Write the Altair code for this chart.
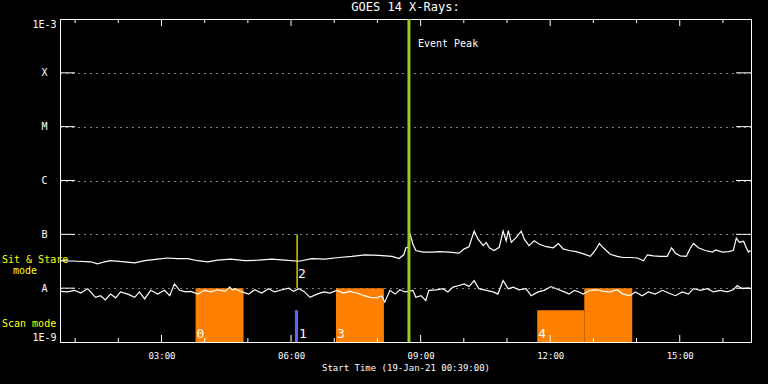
import altair as alt
import pandas as pd

FONT = "DejaVu Sans Mono"
ORANGE = "#ff8000"
BLUE = "#6464ff"
YELLOW = "#ffff00"
GREEN = "#9acd20"

# ---- GOES 14 long channel (1-8 A), hours since 00:00 and log10 flux ----
hours_long = [0.66, 1.06, 1.36, 1.52, 1.68, 1.82, 2.15, 2.38, 2.61, 2.91,
              3.14, 3.37, 3.61, 3.84, 4.07, 4.30, 4.60, 4.93, 5.25, 5.55,
              5.86, 6.18, 6.48, 6.78, 7.11, 7.41, 7.71, 8.03, 8.34, 8.50,
              8.61, 8.66, 8.71, 8.75, 8.82, 8.89, 9.06, 9.29, 9.43, 9.66,
              9.89, 10.01, 10.12, 10.24, 10.33, 10.45, 10.52, 10.59, 10.70, 10.82,
              10.91, 10.98, 11.03, 11.10, 11.21, 11.33, 11.40, 11.51, 11.63, 11.74,
              11.91, 12.07, 12.19, 12.30, 12.44, 12.60, 12.72, 12.93, 13.04, 13.14,
              13.23, 13.39, 13.55, 13.69, 13.85, 14.02, 14.16, 14.25, 14.39, 14.55,
              14.71, 14.81, 14.90, 15.01, 15.15, 15.25, 15.32, 15.43, 15.59, 15.76,
              15.83, 15.99, 16.13, 16.24, 16.31, 16.38, 16.48, 16.52, 16.59, 16.64]
log_long = [-7.49, -7.50, -7.51, -7.55, -7.51, -7.49, -7.51, -7.53, -7.49, -7.46,
            -7.44, -7.45, -7.45, -7.49, -7.51, -7.48, -7.46, -7.49, -7.48, -7.46,
            -7.48, -7.50, -7.45, -7.46, -7.43, -7.41, -7.38, -7.39, -7.41, -7.45,
            -7.38, -7.25, -7.24, -6.98, -7.18, -7.30, -7.33, -7.33, -7.32, -7.33,
            -7.35, -7.27, -7.23, -6.94, -7.09, -7.21, -7.15, -7.25, -7.30, -7.24,
            -6.94, -7.12, -6.93, -7.15, -7.06, -6.94, -7.09, -7.21, -7.12, -7.18,
            -7.23, -7.25, -7.17, -7.27, -7.30, -7.32, -7.35, -7.41, -7.30, -7.17,
            -7.25, -7.37, -7.41, -7.43, -7.43, -7.44, -7.49, -7.38, -7.40, -7.41,
            -7.41, -7.25, -7.35, -7.40, -7.41, -7.25, -7.17, -7.25, -7.30, -7.33,
            -7.29, -7.33, -7.32, -7.30, -7.07, -7.15, -7.13, -7.21, -7.33, -7.30]

# ---- GOES 14 short channel (0.5-4 A) ----
hours_short = [0.66, 0.82, 0.99, 1.13, 1.29, 1.36, 1.47, 1.59, 1.70, 1.82,
               1.94, 2.05, 2.22, 2.38, 2.49, 2.61, 2.75, 2.91, 3.07, 3.19,
               3.30, 3.42, 3.56, 3.68, 3.84, 4.00, 4.14, 4.30, 4.47, 4.58,
               4.65, 4.70, 4.86, 5.02, 5.16, 5.32, 5.48, 5.62, 5.79, 5.95,
               6.06, 6.18, 6.30, 6.44, 6.60, 6.76, 6.90, 7.06, 7.22, 7.36,
               7.52, 7.69, 7.83, 7.99, 8.10, 8.17, 8.29, 8.41, 8.52, 8.64,
               8.82, 8.89, 9.01, 9.12, 9.19, 9.36, 9.52, 9.63, 9.75, 9.89,
               10.01, 10.12, 10.24, 10.35, 10.52, 10.68, 10.79, 10.91, 11.03, 11.14,
               11.28, 11.44, 11.56, 11.72, 11.86, 12.02, 12.14, 12.30, 12.44, 12.56,
               12.67, 12.76, 12.93, 13.09, 13.23, 13.39, 13.55, 13.69, 13.85, 13.97,
               14.13, 14.27, 14.43, 14.60, 14.74, 14.90, 15.06, 15.20, 15.32, 15.48,
               15.64, 15.78, 15.94, 16.10, 16.24, 16.33, 16.45, 16.57, 16.64]
log_short = [-8.06, -8.07, -8.04, -8.09, -8.01, -8.07, -8.17, -8.14, -8.22, -8.11,
             -8.18, -8.07, -8.11, -8.17, -8.07, -8.20, -8.04, -8.11, -8.04, -8.14,
             -7.92, -8.04, -8.07, -8.06, -8.11, -8.04, -8.07, -8.03, -8.06, -7.98,
             -8.04, -8.01, -8.07, -8.11, -8.03, -8.09, -8.01, -8.07, -8.03, -8.00,
             -8.06, -8.01, -8.06, -8.17, -8.11, -8.07, -8.09, -8.04, -8.09, -8.06,
             -8.09, -8.14, -8.17, -8.18, -8.14, -8.26, -8.04, -8.11, -8.03, -8.07,
             -8.04, -8.17, -8.14, -8.23, -8.04, -8.03, -8.01, -8.07, -7.98, -7.95,
             -7.92, -7.97, -7.86, -8.01, -8.04, -8.07, -8.11, -7.86, -8.01, -7.98,
             -8.03, -8.01, -8.14, -8.07, -8.04, -7.97, -8.01, -8.06, -8.11, -8.04,
             -8.07, -8.11, -8.04, -8.03, -8.06, -8.07, -8.03, -8.11, -8.14, -8.07,
             -8.14, -8.07, -8.11, -8.04, -8.09, -8.14, -8.07, -8.11, -8.01, -8.04,
             -8.01, -8.07, -8.04, -8.07, -8.03, -7.95, -8.01, -8.00, -8.01]

# ---- scan-mode observation blocks ----
scan_start = [3.79, 7.04, 11.70, 12.79]
scan_end = [4.90, 8.15, 12.79, 13.90]
scan_top = [1e-8, 1e-8, 3.9e-9, 1e-8]

# ---- other annotations ----
blue_start, blue_end, blue_top = [6.09], [6.16], [3.9e-9]
sitstare_time, sitstare_lo, sitstare_hi = [6.14], [1e-8], [1e-7]
event_peak_time = [8.73]
bottom_label_text = ["0", "1", "3", "4"]
bottom_label_time = [3.79, 6.16, 7.04, 11.70]
upper_label_text = ["2"]
upper_label_time = [6.14]

# ---- axes definitions ----
x_domain = [0.65, 16.65]
y_domain = [1e-9, 1e-3]
major_hours = [3, 6, 9, 12, 15]
minor_hours = [1, 2, 4, 5, 7, 8, 10, 11, 13, 14, 16]
y_label_levels = [1e-9, 1e-8, 1e-7, 1e-6, 1e-5, 1e-4, 1e-3]
y_class_levels = [1e-8, 1e-7, 1e-6, 1e-5, 1e-4]
y_labels = ["1E-9", "A", "B", "C", "M", "X", "1E-3"]

W, H = 691, 323

x_scale = alt.Scale(domain=x_domain, nice=False, zero=False)
y_scale = alt.Scale(type="log", domain=y_domain, nice=False)

label_js = "[" + ",".join("'%s'" % s for s in y_labels) + "]"
x_axis = alt.Axis(values=major_hours,
                  labelExpr="(datum.value < 10 ? '0' : '') + datum.value + ':00'",
                  ticks=False, domain=False, grid=False,
                  labelColor="white", labelFont=FONT, labelFontSize=9,
                  labelPadding=9,
                  title="Start Time (19-Jan-21 00:39:00)", titleColor="white",
                  titleFont=FONT, titleFontSize=9, titleFontWeight="normal",
                  titlePadding=3)
y_axis = alt.Axis(values=y_label_levels,
                  labelExpr=label_js + "[round(log(datum.value)/LN10)+9]",
                  ticks=False, domain=False, grid=True, gridColor="white",
                  gridDash=[1, 5], gridWidth=1, gridOpacity=1,
                  labelColor="white", labelFont=FONT, labelFontSize=10,
                  labelAlign="center", labelPadding=16, labelFlush=True,
                  title=None)

long_df = pd.DataFrame({"h": hours_long, "f": [10 ** v for v in log_long]})
short_df = pd.DataFrame({"h": hours_short, "f": [10 ** v for v in log_short]})
scan_df = pd.DataFrame({"h": scan_start, "h2": scan_end, "f": scan_top})
blue_df = pd.DataFrame({"h": blue_start, "h2": blue_end, "f": blue_top})
ss_df = pd.DataFrame({"h": sitstare_time, "f": sitstare_lo, "f2": sitstare_hi})
peak_df = pd.DataFrame({"h": event_peak_time, "t": ["Event Peak"]})
blab_df = pd.DataFrame({"h": bottom_label_time, "t": bottom_label_text})
ulab_df = pd.DataFrame({"h": upper_label_time, "t": upper_label_text})
major_df = pd.DataFrame({"h": major_hours})
minor_df = pd.DataFrame({"h": minor_hours})
ylev_df = pd.DataFrame({"f": y_class_levels})
one_df = pd.DataFrame({"k": [0]})


def X():
    return alt.X("h:Q", scale=x_scale, axis=x_axis)


def Y():
    return alt.Y("f:Q", scale=y_scale, axis=y_axis)


bars = alt.Chart(scan_df).mark_rect(color=ORANGE).encode(
    x=X(), x2="h2:Q", y=Y(), y2=alt.datum(1e-9))
blue = alt.Chart(blue_df).mark_rect(color=BLUE).encode(
    x=X(), x2="h2:Q", y=Y(), y2=alt.datum(1e-9))
long_line = alt.Chart(long_df).mark_line(color="white", strokeWidth=1.2).encode(x=X(), y=Y())
short_line = alt.Chart(short_df).mark_line(color="white", strokeWidth=1.2).encode(x=X(), y=Y())
ss_rule = alt.Chart(ss_df).mark_rule(color=YELLOW, strokeWidth=1.2).encode(
    x=X(), y=Y(), y2="f2:Q")
peak_rule = alt.Chart(peak_df).mark_rule(color=GREEN, strokeWidth=3).encode(x=X())
peak_text = alt.Chart(peak_df).mark_text(
    align="left", baseline="alphabetic", dx=9, color="white", font=FONT, fontSize=10
).encode(x=X(), y=alt.value(28), text="t:N")


def xticks(df, length):
    top = alt.Chart(df).mark_rule(color="white").encode(
        x=X(), y=alt.value(0), y2=alt.value(length))
    bot = alt.Chart(df).mark_rule(color="white").encode(
        x=X(), y=alt.value(H), y2=alt.value(H - length))
    return [top, bot]


yt_left = alt.Chart(ylev_df).mark_rule(color="white").encode(
    y=Y(), x=alt.value(0), x2=alt.value(15))
yt_right = alt.Chart(ylev_df).mark_rule(color="white").encode(
    y=Y(), x=alt.value(W - 15), x2=alt.value(W))

blab = alt.Chart(blab_df).mark_text(
    align="left", baseline="alphabetic", dx=1, color="white", font=FONT, fontSize=13
).encode(x=X(), y=alt.value(319), text="t:N")
ulab = alt.Chart(ulab_df).mark_text(
    align="left", baseline="alphabetic", dx=1, color="white", font=FONT, fontSize=13
).encode(x=X(), y=alt.value(259), text="t:N")

left_texts = [("Sit & Stare", -58, 244), ("mode", -47, 255), ("Scan mode", -58, 308)]
left_layers = [
    alt.Chart(one_df).mark_text(align="left", baseline="alphabetic", color=YELLOW,
                                font=FONT, fontSize=10).encode(
        x=alt.value(px), y=alt.value(py), text=alt.value(t))
    for t, px, py in left_texts
]

chart = alt.layer(
    bars, blue, long_line, short_line, ss_rule, peak_rule,
    *xticks(major_df, 7), *xticks(minor_df, 4), yt_left, yt_right,
    peak_text, blab, ulab, *left_layers
).properties(
    width=W, height=H,
    title=alt.TitleParams("GOES 14 X-Rays:", color="white", font=FONT, fontSize=12,
                          fontWeight="normal", anchor="middle", offset=4),
    autosize=alt.AutoSizeParams(type="none"),
    padding={"left": 60, "top": 19, "right": 17, "bottom": 42},
    background="black",
).configure_view(stroke="white", strokeWidth=1)

chart.save("out.html", embed_options={"renderer": "svg", "actions": False})
